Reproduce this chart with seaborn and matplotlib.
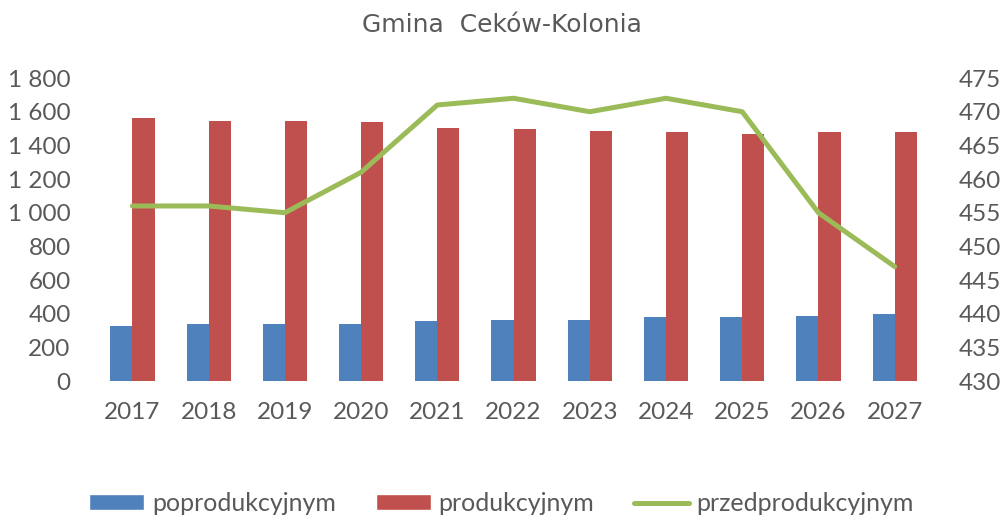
import numpy as np
import pandas as pd
import seaborn as sns
import matplotlib.pyplot as plt
from matplotlib.patches import Patch
from matplotlib.lines import Line2D

# --- data ---
years = ["2017", "2018", "2019", "2020", "2021", "2022", "2023", "2024", "2025", "2026", "2027"]
poprodukcyjnym = [328, 336, 336, 336, 354, 362, 362, 378, 378, 386, 396]
produkcyjnym = [1562, 1544, 1544, 1538, 1503, 1495, 1487, 1479, 1469, 1479, 1479]
przedprodukcyjnym = [456, 456, 455, 461, 471, 472, 470, 472, 470, 455, 447]

left_ticks = [0, 200, 400, 600, 800, 1000, 1200, 1400, 1600, 1800]
right_ticks = [430, 435, 440, 445, 450, 455, 460, 465, 470, 475]

BLUE = "#4F81BD"
RED = "#C0504D"
GREEN = "#9BBB59"
TXT = "#595959"

sns.set_theme(style="white")
plt.rcParams["font.family"] = ["Lato", "DejaVu Sans"]

df = pd.DataFrame({
    "rok": years * 2,
    "wartosc": poprodukcyjnym + produkcyjnym,
    "grupa": ["poprodukcyjnym"] * len(years) + ["produkcyjnym"] * len(years),
})

fig = plt.figure(figsize=(10.03, 5.17), dpi=100)
ax = fig.add_axes([0.094, 0.263, 0.836, 0.586])

sns.barplot(data=df, x="rok", y="wartosc", hue="grupa",
            palette=[BLUE, RED], width=0.58, linewidth=0,
            saturation=1, ax=ax, legend=False)
ax.set_xlim(-0.5, len(years) - 0.5)
ax.set_ylim(0, 1800)
ax.set_yticks(left_ticks)
ax.set_yticklabels([f"{v:,}".replace(",", " ") for v in left_ticks])
ax.set_xlabel("")
ax.set_ylabel("")

# line on the secondary axis
ax2 = ax.twinx()
sns.lineplot(x=np.arange(len(years)), y=przedprodukcyjnym, color=GREEN,
             linewidth=3.6, ax=ax2)
ax2.set_ylim(430, 475)
ax2.set_yticks(right_ticks)

for a in (ax, ax2):
    for s in a.spines.values():
        s.set_visible(False)
    a.tick_params(axis="both", length=0, labelsize=17.5, colors=TXT)
ax.tick_params(axis="x", pad=15)
ax.tick_params(axis="y", pad=17)
ax2.tick_params(axis="y", pad=19)

fig.suptitle("Gmina  Ceków-Kolonia", y=0.975, fontsize=18, color=TXT,
             family="DejaVu Sans")

handles = [
    Patch(facecolor=BLUE, label="poprodukcyjnym"),
    Patch(facecolor=RED, label="produkcyjnym"),
    Line2D([0], [0], color=GREEN, linewidth=3.6, label="przedprodukcyjnym"),
]
leg = fig.legend(handles=handles, loc="lower center", ncol=3, frameon=False,
                 bbox_to_anchor=(0.5, -0.04), fontsize=18, columnspacing=1.6,
                 handlelength=2.2, handleheight=0.6, handletextpad=0.3)
for t in leg.get_texts():
    t.set_color(TXT)

fig.savefig("out.png", dpi=100)
